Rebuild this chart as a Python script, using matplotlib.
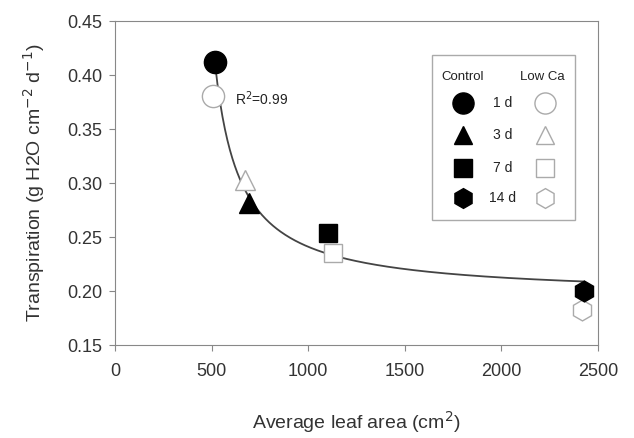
import numpy as np
import matplotlib
matplotlib.use("Agg")
import matplotlib.pyplot as plt
from matplotlib.patches import Rectangle

plt.rcParams['font.family'] = ['Liberation Sans', 'DejaVu Sans']

# data
days = ["1 d", "3 d", "7 d", "14 d"]
markers = ["o", "^", "s", "h"]
msizes = [16, 14, 13, 15]
control_area = [518, 694, 1103, 2428]
control_tr = [0.412, 0.2815, 0.254, 0.200]
lowca_area = [507, 673, 1128, 2420]
lowca_tr = [0.381, 0.303, 0.235, 0.182]

# fitted curve y = y0 + a/(x - c), R2 = 0.99
fit_y0 = 0.195
fit_a = 28.2
fit_c = 387
fit_xmin = 518
fit_xmax = 2428

fig = plt.figure(figsize=(6.34, 4.38), dpi=100)
ax = fig.add_axes([0.1814, 0.2123, 0.7616, 0.7397])

xf = np.linspace(fit_xmin, fit_xmax, 300)
ax.plot(xf, fit_y0 + fit_a / (xf - fit_c), color="#444444", lw=1.3, zorder=1)

for i in range(4):
    ax.plot(lowca_area[i], lowca_tr[i], marker=markers[i], ms=msizes[i],
            mfc="white", mec="#aaaaaa", mew=1.0, ls="none", zorder=2)
    ax.plot(control_area[i], control_tr[i], marker=markers[i], ms=msizes[i],
            mfc="black", mec="black", ls="none", zorder=3)

ax.text(620, 0.378, "R$^2$=0.99", fontsize=10, color="#222222", va="center")

# legend drawn by hand
ax.add_patch(Rectangle((0.657, 0.386), 0.295, 0.509, transform=ax.transAxes,
                       fill=False, ec="#aaaaaa", lw=1.0, zorder=4))
ax.text(0.72, 0.827, "Control", transform=ax.transAxes, fontsize=9.5,
        ha="center", va="center", color="#222222")
ax.text(0.885, 0.827, "Low Ca", transform=ax.transAxes, fontsize=9.5,
        ha="center", va="center", color="#222222")
rows_y = [0.747, 0.648, 0.546, 0.454]
for i in range(4):
    ax.plot(0.72, rows_y[i], marker=markers[i], ms=msizes[i] * 0.95,
            mfc="black", mec="black", transform=ax.transAxes, clip_on=False)
    ax.text(0.803, rows_y[i], days[i], transform=ax.transAxes, fontsize=10,
            ha="center", va="center", color="#222222")
    ax.plot(0.89, rows_y[i], marker=markers[i], ms=msizes[i] * 0.95,
            mfc="white", mec="#aaaaaa", mew=1.0, transform=ax.transAxes,
            clip_on=False)

ax.set_xlim(0, 2500)
ax.set_ylim(0.15, 0.45)
ax.set_xticks([0, 500, 1000, 1500, 2000, 2500])
ax.set_yticks([0.15, 0.20, 0.25, 0.30, 0.35, 0.40, 0.45])
ax.set_yticklabels(["%.2f" % v for v in ax.get_yticks()])
for s in ax.spines.values():
    s.set_color("#888888")
ax.tick_params(direction="out", length=4, color="#888888", labelsize=13,
               labelcolor="#333333", pad=5)
ax.tick_params(axis="x", pad=9)

ax.set_xlabel("Average leaf area (cm$^2$)", fontsize=14, color="#333333",
              labelpad=21)
ax.set_ylabel("Transpiration (g H2O cm$^{-2}$ d$^{-1}$)", fontsize=14,
              color="#333333", labelpad=15)

fig.savefig("out.png", dpi=100)
